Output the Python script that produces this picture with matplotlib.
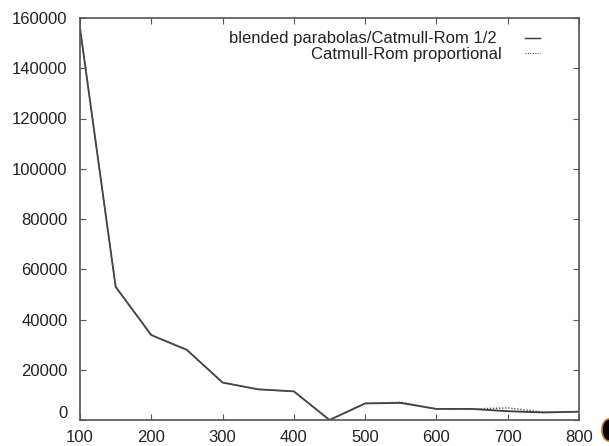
import matplotlib
matplotlib.use("Agg")
import matplotlib.pyplot as plt
import matplotlib.transforms as mtransforms
from matplotlib.patches import Ellipse

plt.rcParams['font.family'] = ['Liberation Sans', 'DejaVu Sans']

# Error measurements for the two interpolation schemes
sizes = [100, 150, 200, 250, 300, 350, 400, 450, 500, 550, 600, 650, 700, 750, 800]
blended = [156000, 53000, 33800, 27900, 14900, 12200, 11400, 0, 6600, 6800,
           4400, 4400, 3500, 3000, 3300]
proportional = [156000, 53000, 33800, 27900, 14900, 12200, 11400, 0, 6600, 7100,
                4400, 4400, 4800, 3200, 3300]
labels = ["blended parabolas/Catmull-Rom 1/2", "Catmull-Rom proportional"]

x_ticks = list(range(100, 801, 100))
y_ticks = list(range(0, 160001, 20000))

W, H, DPI = 609, 446, 100
fig = plt.figure(figsize=(W / DPI, H / DPI), dpi=DPI)
ax = fig.add_axes([80 / W, 1 - 420 / H, (579 - 80) / W, (420 - 18) / H])

styles = [dict(color='#3a3a3a', lw=1.3, ls='-'),
          dict(color='#555555', lw=1.0, ls=(0, (1, 1.2)))]

ax.plot(sizes, blended, **styles[0])
ax.plot(sizes, proportional, **styles[1])

ax.set_xlim(100, 800)
ax.set_ylim(0, 160000)
ax.set_xticks(x_ticks)
ax.set_yticks(y_ticks)
ax.tick_params(direction='in', length=4, width=0.8, color='#555555',
               top=True, right=True, labelsize=12, labelcolor='#222222')
ax.tick_params(axis='y', pad=9)
ax.tick_params(axis='x', pad=7)
for s in ax.spines.values():
    s.set_color('#555555')
    s.set_linewidth(1.2)

# the zero label sits a little above the bottom border
fig.canvas.draw()
zero = ax.get_yticklabels()[0]
zero.set_transform(zero.get_transform() +
                   mtransforms.ScaledTranslation(0, 8 / DPI, fig.dpi_scale_trans))

# key, right-aligned text followed by a short sample of each line style
key_rows = [(0.836, 0.948), (0.846, 0.910)]
for (tx, ty), text, st in zip(key_rows, labels, styles):
    ax.text(tx, ty, text, transform=ax.transAxes, ha='right', va='center',
            fontsize=12, color='#222222')
    ax.plot([0.892, 0.922], [ty + 0.003, ty + 0.003], transform=ax.transAxes,
            clip_on=False, color=st['color'], lw=st['lw'] * 0.8, ls=st['ls'])

# small dark dot at the lower right corner
fig.patches.append(Ellipse((609 / W, 1 - 430 / H), 14 / W, 22 / H,
                           transform=fig.transFigure, facecolor='black',
                           edgecolor='#c87010', lw=1.2))

fig.savefig('out.png', dpi=DPI)
